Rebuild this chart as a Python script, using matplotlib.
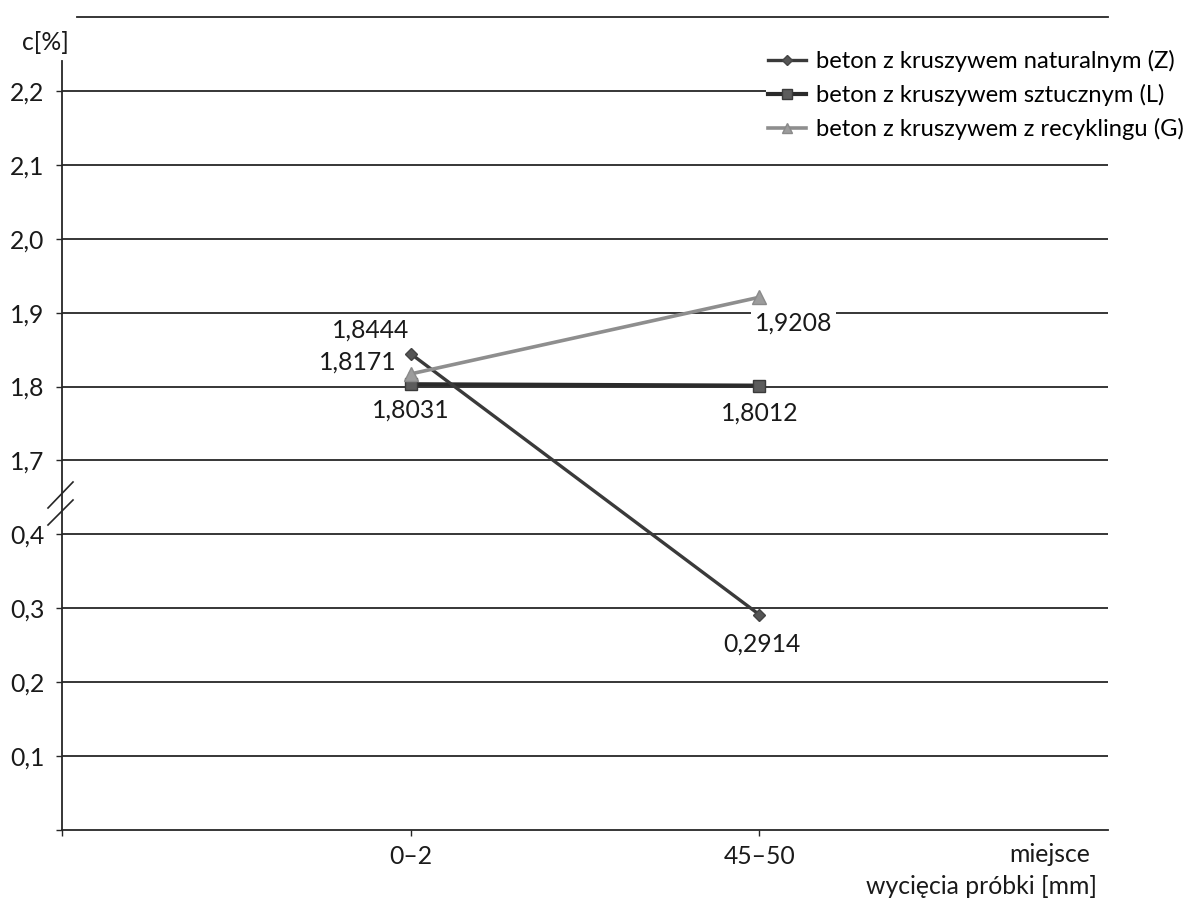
import numpy as np
import matplotlib
matplotlib.use("Agg")
import matplotlib.pyplot as plt

plt.rcParams['font.family'] = ['Lato', 'DejaVu Sans']

# --- data -------------------------------------------------------------
categories = ["0\u20132", "45\u201350"]
x_pos = [1, 2]
series_names = [
    "beton z kruszywem naturalnym (Z)",
    "beton z kruszywem sztucznym (L)",
    "beton z kruszywem z recyklingu (G)",
]
values_Z = [1.8444, 0.2914]
values_L = [1.8031, 1.8012]
values_G = [1.8171, 1.9208]
ytick_values = [0.1, 0.2, 0.3, 0.4, 1.7, 1.8, 1.9, 2.0, 2.1, 2.2]
ytick_labels = ["0,1", "0,2", "0,3", "0,4", "1,7", "1,8", "1,9", "2,0", "2,1", "2,2"]


def fmt(v):
    return f"{v:.4f}".replace(".", ",")


# --- broken y scale: 0.42..1.68 squeezed into a short gap -------------
LO, HI, GAP = 0.42, 1.68, 0.06
SHIFT = HI - LO - GAP


def fwd(v):
    v = np.asarray(v, dtype=float)
    return np.where(v <= LO, v,
                    np.where(v >= HI, v - SHIFT,
                             LO + (v - LO) * GAP / (HI - LO)))


def inv(d):
    d = np.asarray(d, dtype=float)
    return np.where(d <= LO, d,
                    np.where(d >= LO + GAP, d + SHIFT,
                             LO + (d - LO) * (HI - LO) / GAP))


W, H = 1196, 898
fig = plt.figure(figsize=(W / 100, H / 100), dpi=100)
ax = fig.add_axes([62 / W, (H - 830) / H, (1108 - 62) / W, (830 - 17) / H])
ax.set_yscale('function', functions=(fwd, inv))
ax.set_xlim(0, 3)
ax.set_ylim(0, 2.3)

FS = 17.8
LEG_FS = 17.1
txt_c = "#1a1a1a"
grid_c = "#262626"

# grid lines
for v in ytick_values:
    ax.axhline(v, color=grid_c, lw=1.3, zorder=1)
ax.axhline(2.3, xmin=15 / 1046, color=grid_c, lw=1.3, zorder=1, clip_on=False)

# spines
for s in ("top", "right"):
    ax.spines[s].set_visible(False)
for s in ("left", "bottom"):
    ax.spines[s].set_color(grid_c)
    ax.spines[s].set_linewidth(1.3)
ax.spines['left'].set_bounds(0, 2.24)

ax.set_yticks(ytick_values)
ax.set_yticklabels(ytick_labels, fontsize=FS, color=txt_c)
ax.set_yticks([0], minor=True)
ax.set_xticks(x_pos)
ax.set_xticklabels(categories, fontsize=FS, color=txt_c)
ax.set_xticks([0], minor=True)
ax.tick_params(axis='both', which='both', direction='out', length=4.5,
               width=1.0, color=grid_c)
ax.tick_params(axis='y', pad=8)
ax.tick_params(axis='x', pad=6)

# series
lZ, = ax.plot(x_pos, values_Z, color="#3a3a3a", lw=2.4, marker="D", ms=6.5,
              mfc="#555555", mec="#444444", zorder=4)
lL, = ax.plot(x_pos, values_L, color="#2b2b2b", lw=3.0, marker="s", ms=9,
              mfc="#5c5c5c", mec="#3a3a3a", zorder=3)
lG, = ax.plot(x_pos, values_G, color="#8e8e8e", lw=2.6, marker="^", ms=10,
              mfc="#9c9c9c", mec="#8a8a8a", zorder=5)

# value labels
ann = dict(textcoords="offset pixels", fontsize=FS, color=txt_c,
           ha="center", va="center", zorder=6)
ax.annotate(fmt(values_Z[0]), (x_pos[0], values_Z[0]), xytext=(-40, 24), **ann)
ax.annotate(fmt(values_G[0]), (x_pos[0], values_G[0]), xytext=(-53, 12), **ann)
ax.annotate(fmt(values_L[0]), (x_pos[0], values_L[0]), xytext=(0, -26), **ann)
ax.annotate(fmt(values_G[1]), (x_pos[1], values_G[1]), xytext=(34, -26),
            bbox=dict(boxstyle="square,pad=0.15", fc="white", ec="none"), **ann)
ax.annotate(fmt(values_L[1]), (x_pos[1], values_L[1]), xytext=(0, -27), **ann)
ax.annotate(fmt(values_Z[1]), (x_pos[1], values_Z[1]), xytext=(3, -29), **ann)

# axis break marks
bk = dict(transform=ax.transAxes, color=grid_c, lw=1.2, clip_on=False)
x0, x1 = (48 - 62) / 1046, (73 - 62) / 1046
ax.plot([x0, x1], [(830 - 508) / 813, (830 - 482) / 813], **bk)
ax.plot([x0, x1], [(830 - 525) / 813, (830 - 500) / 813], **bk)

# axis titles
fig.text(22 / W, 1 - 42 / H, "c[%]", fontsize=FS, color=txt_c,
         ha="left", va="center")
fig.text(1090 / W, 1 - 855 / H, "miejsce", fontsize=FS, color=txt_c,
         ha="right", va="center")
fig.text(1097 / W, 1 - 887 / H, "wycięcia próbki [mm]", fontsize=FS,
         color=txt_c, ha="right", va="center")

# legend
leg = fig.legend([lZ, lL, lG], series_names, loc="upper left",
                 bbox_to_anchor=(766 / W, 1 - 48 / H), fontsize=LEG_FS,
                 frameon=True, facecolor="white", edgecolor="none",
                 framealpha=1, fancybox=False, borderpad=0.1,
                 handlelength=1.6, handletextpad=0.4, labelspacing=0.5,
                 borderaxespad=0, markerscale=0.75)
leg.set_zorder(10)

fig.savefig("out.png", dpi=100, facecolor="white")
